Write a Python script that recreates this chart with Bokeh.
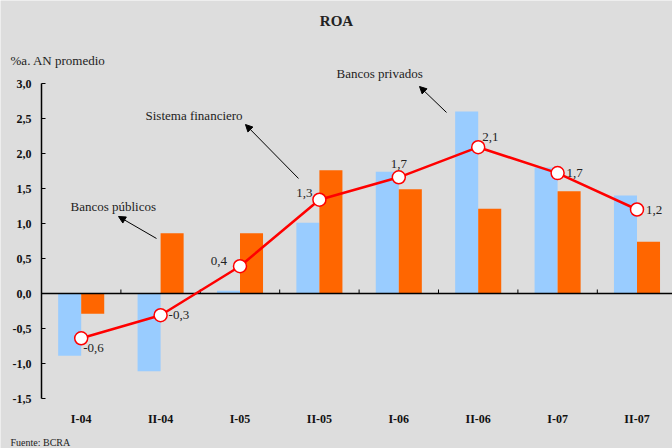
import math
from bokeh.plotting import figure
from bokeh.models import (Range1d, FixedTicker, CustomJSTickFormatter, ColumnDataSource,
                          Label, Arrow, NormalHead)
from bokeh.core.properties import value
from bokeh.embed import file_html
from bokeh.resources import INLINE

# ---------------- data ----------------
periods = ["I-04", "II-04", "I-05", "II-05", "I-06", "II-06", "I-07", "II-07"]
bancos_privados = [-0.89, -1.11, 0.04, 1.01, 1.74, 2.60, 1.80, 1.40]
bancos_publicos = [-0.29, 0.86, 0.86, 1.76, 1.49, 1.21, 1.46, 0.74]
sistema_financiero = [-0.64, -0.31, 0.39, 1.34, 1.66, 2.09, 1.72, 1.20]
y_ticks = [-1.5, -1.0, -0.5, 0.0, 0.5, 1.0, 1.5, 2.0, 2.5, 3.0]
y_min, y_max = -1.5, 3.0

# ---------------- styles ----------------
FONT = "Liberation Serif"
BG = "#DDDDDD"
BLUE = "#99CCFF"
ORANGE = "#FF6600"
RED = "#FF0000"
BAR_W = 0.29
label_dx = [2, 8, -13, -7, 0, 4, 9, 9]
label_dy = [10, 0, -5, -7, -13, -10, 0, 0]
label_align = ["left", "left", "right", "right", "center", "left", "left", "left"]

W, H = 672, 448
cat_px = 79.4          # pixels per category
px_per_unit = 70.0     # pixels per 1.0 on the value axis
left_px, top_px, bottom_px = 41, 83, 50   # space around the plotting area

idx = list(range(len(periods)))
x0 = -0.5
x_start = x0 - left_px / cat_px
x_end = x0 + (W - left_px) / cat_px
y_end = y_max + top_px / px_per_unit
y_start = y_min - bottom_px / px_per_unit

p = figure(width=W, height=H, output_backend="svg", toolbar_location=None,
           x_range=Range1d(x_start, x_end), y_range=Range1d(y_start, y_end),
           min_border_left=0, min_border_right=0, min_border_top=0, min_border_bottom=0)
p.background_fill_color = BG
p.border_fill_color = BG
p.outline_line_color = None
p.xgrid.visible = False
p.ygrid.visible = False

# bars
src = ColumnDataSource(dict(
    xb=[i - BAR_W / 2 for i in idx], xo=[i + BAR_W / 2 for i in idx],
    priv=bancos_privados, pub=bancos_publicos))
p.vbar(x="xb", top="priv", bottom=0, width=BAR_W, source=src,
       fill_color=BLUE, line_color=None)
p.vbar(x="xo", top="pub", bottom=0, width=BAR_W, source=src,
       fill_color=ORANGE, line_color=None)

# zero line and boundary ticks
p.segment(x0=[x0], x1=[len(periods) + 0.5], y0=[0], y1=[0], line_color="black", line_width=1.5)
bounds = [i + 0.5 for i in idx]
p.ray(x=bounds, y=[0] * len(bounds), length=4, length_units="screen",
      angle=math.pi / 2, line_color="black", line_width=1)

# line
p.line(idx, sistema_financiero, line_color=RED, line_width=2.5)
p.scatter(idx, sistema_financiero, size=13, fill_color="white",
          line_color=RED, line_width=1.5)

labels = [f"{v:.1f}".replace(".", ",") for v in sistema_financiero]
lsrc = ColumnDataSource(dict(x=idx, y=sistema_financiero, t=labels,
                             dx=label_dx, dy=label_dy, al=label_align))
p.text(x="x", y="y", text="t", x_offset="dx", y_offset="dy", text_align="al",
       text_baseline="middle", text_font=value(FONT), text_font_size="13px",
       text_color="#222222", source=lsrc)

# axes (drawn at fixed positions inside the canvas)
p.yaxis.fixed_location = x0
p.yaxis.ticker = FixedTicker(ticks=y_ticks)
p.yaxis.bounds = (y_min, y_max)
p.yaxis.formatter = CustomJSTickFormatter(code="return tick.toFixed(1).replace('.', ',');")
p.yaxis.major_tick_in = 4
p.yaxis.major_tick_out = 0
p.yaxis.minor_tick_line_color = None
p.yaxis.axis_line_width = 1.5
p.yaxis.axis_line_color = "black"
p.yaxis.major_tick_line_color = "black"
p.yaxis.major_label_standoff = 10
p.yaxis.major_label_text_font = FONT
p.yaxis.major_label_text_font_style = "bold"
p.yaxis.major_label_text_font_size = "12px"
p.yaxis.major_label_text_color = "#111111"

p.xaxis.fixed_location = y_min
p.xaxis.ticker = FixedTicker(ticks=idx)
p.xaxis.major_label_overrides = {i: periods[i] for i in idx}
p.xaxis.axis_line_color = None
p.xaxis.major_tick_line_color = None
p.xaxis.minor_tick_line_color = None
p.xaxis.major_label_standoff = 7
p.xaxis.major_label_text_font = FONT
p.xaxis.major_label_text_font_style = "bold"
p.xaxis.major_label_text_font_size = "12px"
p.xaxis.major_label_text_color = "#111111"

# texts / annotations
def lab(text, x, y, size="13px", bold=False, align="left"):
    p.add_layout(Label(x=x, y=y, text=text, text_font=FONT, text_font_size=size,
                       text_font_style="bold" if bold else "normal",
                       text_align=align, text_baseline="middle", text_color="#222222"))

lab("ROA", 3.215, 3.9, size="15px", bold=True, align="center")
lab("%a. AN promedio", -0.89, 3.33)
lab("Fuente: BCRA", -0.89, -2.13, size="10px")
lab("Sistema financiero", 0.81, 2.54)
lab("Bancos privados", 3.215, 3.143)
lab("Bancos públicos", -0.135, 1.243)

def arrow(xa, ya, xb, yb):
    p.add_layout(Arrow(x_start=xa, y_start=ya, x_end=xb, y_end=yb,
                       line_color="black", line_width=1,
                       end=NormalHead(size=7, fill_color="black", line_color="black")))

arrow(2.737, 1.643, 2.069, 2.414)
arrow(4.601, 2.586, 4.261, 2.957)
arrow(0.948, 0.786, 0.470, 1.10)

open("out.html", "w").write(file_html(p, INLINE))
